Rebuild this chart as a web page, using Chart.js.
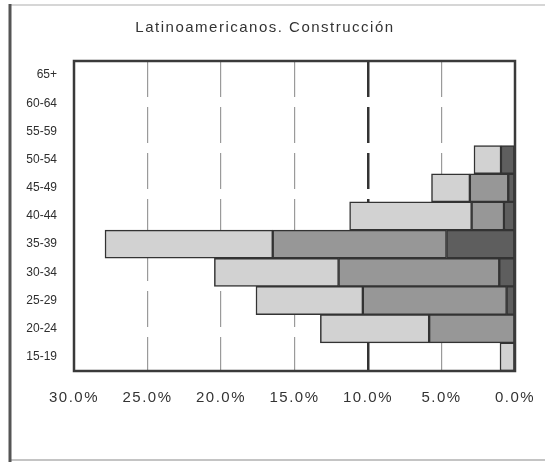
<!DOCTYPE html>
<html>
<head>
<meta charset="utf-8">
<script src="https://cdn.jsdelivr.net/npm/chart.js@4"></script>
<style>
  html, body { margin: 0; padding: 0; background: #fff; }
  #wrap { width: 545px; height: 462px; position: relative; }
  canvas { display: block; }
</style>
</head>
<body>
<div id="wrap"><canvas id="c" width="545" height="462"></canvas></div>
<script>
const chartTitle = 'Latinoamericanos. Construcción';
const categories = ['65+', '60-64', '55-59', '50-54', '45-49', '40-44', '35-39', '30-34', '25-29', '20-24', '15-19'];
const seriesDark   = [0, 0, 0, 0.95, 0.46, 0.75, 4.66, 1.07, 0.57, 0, 0];
const seriesMedium = [0, 0, 0, 0, 2.61, 2.20, 11.82, 10.93, 9.78, 5.84, 0];
const seriesLight  = [0, 0, 0, 1.84, 2.61, 8.30, 11.41, 8.45, 7.27, 7.40, 1.02];
const xTicks = [0, 5, 10, 15, 20, 25, 30];

const framePlugin = {
  id: 'frame',
  beforeDraw(chart) {
    const ctx = chart.ctx;
    ctx.save();
    ctx.fillStyle = '#fff';
    ctx.fillRect(0, 0, chart.width, chart.height);
    ctx.strokeStyle = '#c8c8c8';
    ctx.lineWidth = 1.5;
    ctx.beginPath(); ctx.moveTo(10, 5); ctx.lineTo(545, 5); ctx.stroke();
    ctx.strokeStyle = '#b0b0b0';
    ctx.beginPath(); ctx.moveTo(10, 460); ctx.lineTo(545, 460); ctx.stroke();
    ctx.strokeStyle = '#555';
    ctx.lineWidth = 3;
    ctx.beginPath(); ctx.moveTo(10, 4); ctx.lineTo(10, 462); ctx.stroke();
    ctx.restore();
  },
  afterDraw(chart) {
    const ctx = chart.ctx;
    const a = chart.chartArea;
    ctx.save();
    ctx.strokeStyle = '#3a3a3a';
    ctx.lineWidth = 2.5;
    ctx.strokeRect(a.left, a.top, a.right - a.left, a.bottom - a.top);
    ctx.fillStyle = '#333';
    ctx.font = '15px "Liberation Sans", Arial, sans-serif';
    ctx.letterSpacing = '1.5px';
    ctx.textAlign = 'center';
    ctx.textBaseline = 'middle';
    ctx.fillText(chartTitle, 265, 28);
    ctx.restore();
  }
};

const common = { borderColor: '#333', borderWidth: 1.5, borderSkipped: false, barPercentage: 1, categoryPercentage: 1 };

new Chart(document.getElementById('c'), {
  type: 'bar',
  data: {
    labels: categories,
    datasets: [
      Object.assign({ label: 'A', data: seriesDark, backgroundColor: '#5e5e5e' }, common),
      Object.assign({ label: 'B', data: seriesMedium, backgroundColor: '#979797' }, common),
      Object.assign({ label: 'C', data: seriesLight, backgroundColor: '#d2d2d2' }, common)
    ]
  },
  options: {
    indexAxis: 'y',
    responsive: false,
    animation: false,
    devicePixelRatio: 1,
    layout: { padding: { top: 61, right: 30, bottom: 0, left: 0 } },
    plugins: { legend: { display: false }, title: { display: false }, tooltip: { enabled: false } },
    scales: {
      x: {
        stacked: true,
        reverse: true,
        min: 0,
        max: 30,
        afterBuildTicks(scale) { scale.ticks = xTicks.map(v => ({ value: v })); },
        afterFit(scale) {
          scale.height = 91;
          if (!scale._wrapped) {
            const orig = scale.drawLabels;
            scale.drawLabels = function (area) {
              const ctx = this.ctx;
              ctx.save();
              ctx.letterSpacing = '1.5px';
              orig.call(this, area);
              ctx.restore();
            };
            scale._wrapped = true;
          }
        },
        border: { display: false, dash: [36, 10] },
        grid: {
          drawTicks: false,
          color: (c) => {
            const v = c.tick && c.tick.value;
            if (v === 0 || v === 30) return 'rgba(0,0,0,0)';
            return v === 10 ? '#333' : '#9a9a9a';
          },
          lineWidth: (c) => (c.tick && c.tick.value === 10 ? 2.5 : 1.2)
        },
        ticks: {
          padding: 18,
          color: '#333',
          font: { family: '"Liberation Sans", Arial, sans-serif', size: 15 },
          callback: (v) => Number(v).toFixed(1) + '%'
        }
      },
      y: {
        stacked: true,
        afterFit(scale) { scale.width = 74; },
        border: { display: false },
        grid: { display: false, drawTicks: false },
        ticks: {
          padding: 17,
          color: '#2e2e2e',
          font: { family: '"Liberation Sans", Arial, sans-serif', size: 12 }
        }
      }
    }
  },
  plugins: [framePlugin]
});
</script>
</body>
</html>
